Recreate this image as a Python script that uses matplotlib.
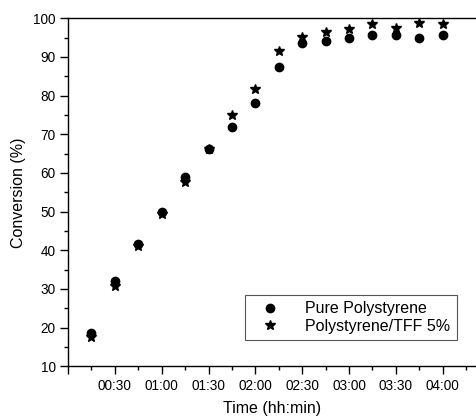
import matplotlib
matplotlib.use("Agg")
import matplotlib.pyplot as plt
from matplotlib.ticker import MultipleLocator, FuncFormatter

plt.rcParams['font.family'] = ['Liberation Sans', 'DejaVu Sans']

# time in minutes
time_min = [15, 30, 45, 60, 75, 90, 105, 120, 135, 150, 165, 180, 195, 210, 225, 240]
pure_ps = [18.6, 32.0, 41.7, 50.0, 59.0, 66.3, 72.0, 78.0, 87.5, 93.7, 94.1, 94.9, 95.7, 95.6, 95.0, 95.8]
ps_tff = [17.5, 30.8, 41.0, 49.5, 57.7, 66.3, 74.9, 81.8, 91.5, 95.1, 96.5, 97.3, 98.4, 97.5, 98.8, 98.6]

fig = plt.figure(figsize=(4.77, 4.16), dpi=100)
ax = fig.add_axes([0.1426, 0.1195, 1.0 - 0.1426, 0.956 - 0.1195])

ax.plot(time_min, pure_ps, 'o', color='black', markersize=6, label='Pure Polystyrene')
ax.plot(time_min, ps_tff, '*', color='black', markersize=7.5, label='Polystyrene/TFF 5%')

ax.set_xlim(0, 262)
ax.set_ylim(10, 100)

ax.xaxis.set_major_locator(MultipleLocator(30))
ax.xaxis.set_minor_locator(MultipleLocator(15))
ax.yaxis.set_major_locator(MultipleLocator(10))
ax.yaxis.set_minor_locator(MultipleLocator(5))


def fmt_time(v, pos):
    if v <= 0:
        return ''
    v = int(round(v))
    return '%02d:%02d' % (v // 60, v % 60)


ax.xaxis.set_major_formatter(FuncFormatter(fmt_time))

ax.spines['right'].set_visible(False)
for s in ['left', 'top', 'bottom']:
    ax.spines[s].set_linewidth(1.0)

ax.tick_params(which='major', direction='out', length=6, width=1.0, labelsize=9.8, pad=3)
ax.tick_params(which='minor', direction='out', length=3, width=1.0)
ax.tick_params(top=False, right=False)

ax.set_xlabel('Time (hh:min)', fontsize=11.5, labelpad=6)
ax.set_ylabel('Conversion (%)', fontsize=11.5, labelpad=5)

leg = ax.legend(loc='lower right', bbox_to_anchor=(0.951, 0.0756), borderaxespad=0,
                fontsize=11.5, frameon=True, fancybox=False, edgecolor='#555555',
                framealpha=1, handletextpad=1.1, borderpad=0.4, labelspacing=0.15,
                handlelength=2.3)
leg.get_frame().set_linewidth(0.8)

fig.savefig('out.png', dpi=100)
